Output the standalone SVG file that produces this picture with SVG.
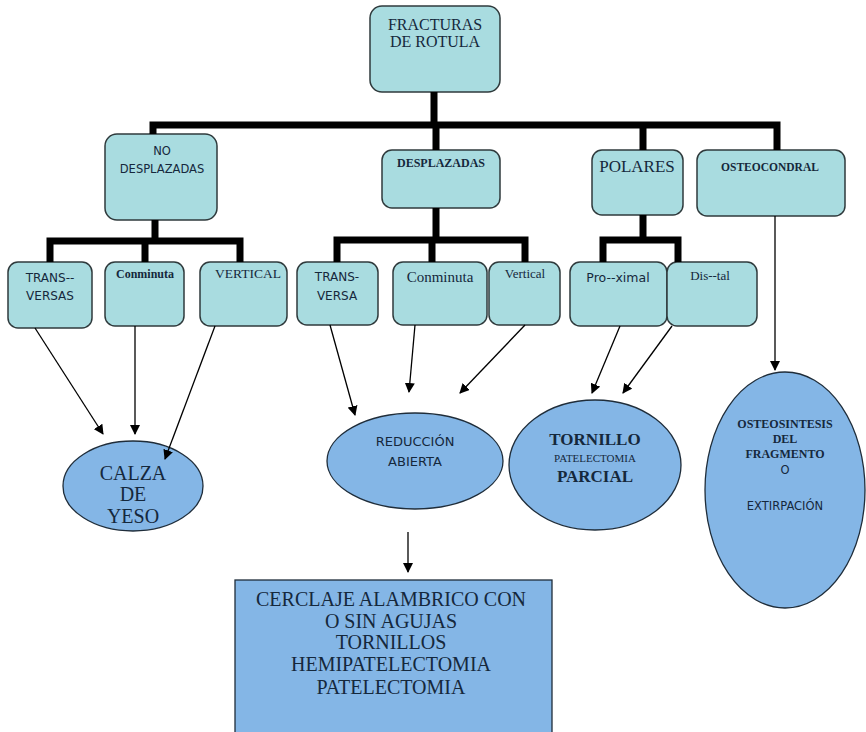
<svg xmlns="http://www.w3.org/2000/svg" width="866" height="732" viewBox="0 0 866 732">
<defs>
<marker id="ah" viewBox="0 0 10 10" refX="9" refY="5" markerWidth="10" markerHeight="10" markerUnits="userSpaceOnUse" orient="auto">
<path d="M0,0 L10,5 L0,10 z" fill="#000"/>
</marker>
<style>
.box{fill:#a9dce0;stroke:#2f3a3c;stroke-width:1.5}
.ell{fill:#84b6e6;stroke:#1f2d3a;stroke-width:1.3}
.bar{fill:none;stroke:#000;stroke-width:7;stroke-linejoin:miter}
.arr{fill:none;stroke:#000;stroke-width:1.3;marker-end:url(#ah)}
text{fill:#15283c;text-anchor:middle}
.serif{font-family:"Liberation Serif",serif}
.sans{font-family:"DejaVu Sans","Liberation Sans",sans-serif}
</style>
</defs>
<rect width="866" height="732" fill="#fff"/>
<g id="fracturas">
<rect class="box" x="370" y="6" width="130" height="86" rx="12"/>
<text class="serif" x="435" y="30" font-size="16">FRACTURAS</text>
<text class="serif" x="435" y="47" font-size="16">DE ROTULA</text>
</g>
<g id="no-desplazadas">
<rect class="box" x="105" y="134" width="112" height="86" rx="12"/>
<text class="sans" x="162" y="155" font-size="11.5">NO</text>
<text class="sans" x="162" y="173" font-size="11.5">DESPLAZADAS</text>
</g>
<g id="desplazadas">
<rect class="box" x="382" y="150" width="118" height="58" rx="10"/>
<text class="serif" x="441" y="167" font-size="12" font-weight="bold">DESPLAZADAS</text>
</g>
<g id="polares">
<rect class="box" x="592" y="150" width="91" height="65" rx="10"/>
<text class="serif" x="637" y="172" font-size="17">POLARES</text>
</g>
<g id="osteocondral">
<rect class="box" x="697" y="150" width="148" height="66" rx="10"/>
<text class="serif" x="770" y="171" font-size="11.5" font-weight="bold">OSTEOCONDRAL</text>
</g>
<g id="trans-versas">
<rect class="box" x="8" y="262" width="84" height="66" rx="10"/>
<text class="sans" x="50" y="282" font-size="12">TRANS--</text>
<text class="sans" x="50" y="300" font-size="12">VERSAS</text>
</g>
<g id="conminuta-1">
<rect class="box" x="105" y="262" width="79" height="64" rx="10"/>
<text class="serif" x="145" y="278" font-size="12" font-weight="bold">Conminuta</text>
</g>
<g id="vertical-1">
<rect class="box" x="200" y="262" width="87" height="64" rx="10"/>
<text class="serif" x="248" y="278" font-size="13.5">VERTICAL</text>
</g>
<g id="trans-versa">
<rect class="box" x="297" y="262" width="81" height="63" rx="10"/>
<text class="sans" x="337" y="281" font-size="12">TRANS-</text>
<text class="sans" x="337" y="300" font-size="12">VERSA</text>
</g>
<g id="conminuta-2">
<rect class="box" x="393" y="262" width="94" height="63" rx="10"/>
<text class="serif" x="440" y="282" font-size="15">Conminuta</text>
</g>
<g id="vertical-2">
<rect class="box" x="489" y="262" width="71" height="63" rx="10"/>
<text class="serif" x="525" y="278" font-size="13">Vertical</text>
</g>
<g id="proximal">
<rect class="box" x="570" y="262" width="97" height="64" rx="10"/>
<text class="sans" x="618" y="282" font-size="12.5">Pro--ximal</text>
</g>
<g id="distal">
<rect class="box" x="667" y="262" width="90" height="64" rx="10"/>
<text class="serif" x="710" y="280" font-size="13">Dis--tal</text>
</g>
<g id="calza">
<ellipse class="ell" cx="133" cy="486" rx="70" ry="45"/>
<text class="serif" x="133" y="480" font-size="20">CALZA</text>
<text class="serif" x="133" y="501" font-size="20">DE</text>
<text class="serif" x="133" y="523" font-size="20">YESO</text>
</g>
<g id="reduccion">
<ellipse class="ell" cx="415" cy="461" rx="88" ry="48"/>
<text class="sans" x="415" y="446" font-size="13">REDUCCIÓN</text>
<text class="sans" x="415" y="466" font-size="13">ABIERTA</text>
</g>
<g id="tornillo">
<ellipse class="ell" cx="595" cy="465" rx="86" ry="65"/>
<text class="serif" x="595" y="445" font-size="17" font-weight="bold">TORNILLO</text>
<text class="serif" x="595" y="462" font-size="11">PATELECTOMIA</text>
<text class="serif" x="595" y="482" font-size="17" font-weight="bold">PARCIAL</text>
</g>
<g id="osteosintesis">
<ellipse class="ell" cx="785" cy="490" rx="80" ry="118"/>
<text class="serif" x="785" y="428" font-size="12" font-weight="bold">OSTEOSINTESIS</text>
<text class="serif" x="785" y="443" font-size="12" font-weight="bold">DEL</text>
<text class="serif" x="785" y="458" font-size="12" font-weight="bold">FRAGMENTO</text>
<text class="sans" x="785" y="474" font-size="11.5">O</text>
<text class="sans" x="785" y="510" font-size="11.5">EXTIRPACIÓN</text>
</g>
<g id="cerclaje">
<rect x="235" y="580" width="317" height="160" fill="#84b6e6" stroke="#1f2d3a" stroke-width="1.3"/>
<text class="serif" x="391" y="606" font-size="20">CERCLAJE ALAMBRICO CON</text>
<text class="serif" x="391" y="628" font-size="20">O SIN AGUJAS</text>
<text class="serif" x="391" y="649" font-size="20">TORNILLOS</text>
<text class="serif" x="391" y="671" font-size="20">HEMIPATELECTOMIA</text>
<text class="serif" x="391" y="694" font-size="20">PATELECTOMIA</text>
</g>
<g id="connectors">
<path class="bar" d="M434,92 V125 M153,134 V125 H777 V150 M643,125 V150 M436,125 V150"/>
<path class="bar" d="M155,220 V241 M50,262 V241 H240 V262 M145,241 V262"/>
<path class="bar" d="M436,208 V240 M337,262 V240 H525 V262 M432,240 V262"/>
<path class="bar" d="M643,215 V240 M603,262 V240 H678 V262"/>
<line class="arr" x1="35" y1="328" x2="103" y2="434"/>
<line class="arr" x1="135" y1="326" x2="135" y2="434"/>
<line class="arr" x1="215" y1="326" x2="165" y2="459"/>
<line class="arr" x1="330" y1="325" x2="355" y2="415"/>
<line class="arr" x1="415" y1="325" x2="409" y2="392"/>
<line class="arr" x1="525" y1="325" x2="460" y2="393"/>
<line class="arr" x1="620" y1="326" x2="592" y2="393"/>
<line class="arr" x1="672" y1="326" x2="623" y2="393"/>
<line class="arr" x1="775" y1="216" x2="775" y2="370"/>
<line class="arr" x1="408" y1="532" x2="408" y2="572"/>
</g>
</svg>
